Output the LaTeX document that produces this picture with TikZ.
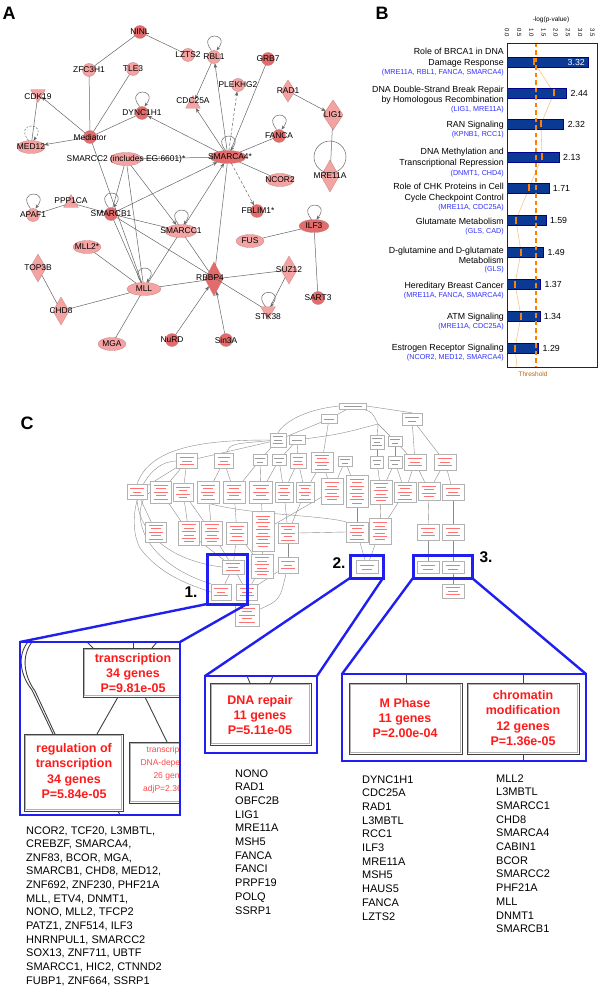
\documentclass[tikz,border=0pt]{standalone}
\usepackage{fontspec}
\setmainfont{Liberation Sans}
\usetikzlibrary{shapes.geometric,arrows.meta}
\definecolor{nodeL}{HTML}{F4A3A3}
\definecolor{nodeD}{HTML}{E36B6B}
\definecolor{nodeE}{HTML}{C88080}
\definecolor{barblue}{HTML}{0B3A94}
\definecolor{genblue}{HTML}{3030FF}
\definecolor{thrOr}{HTML}{FF7F00}
\definecolor{ratioc}{HTML}{F2C98A}
\definecolor{hiblue}{HTML}{1F1FF0}
\definecolor{goRed}{HTML}{FF1A1A}
\definecolor{thrTxt}{HTML}{C06010}
\pgfdeclarelayer{back}
\pgfdeclarelayer{bg}
\pgfsetlayers{back,bg,main}
\tikzset{
 gnode/.style={draw=nodeE, line width=0.3pt, inner sep=0pt, outer sep=0pt},
 gc/.style={gnode, circle, minimum size=13pt, fill=#1},
 ge/.style 2 args={gnode, ellipse, minimum width=#2, minimum height=13pt, fill=#1},
 gd/.style n args={3}{gnode, diamond, minimum width=#2, minimum height=#3, fill=#1},
 gtu/.style={gnode, regular polygon, regular polygon sides=3, minimum size=17pt, fill=#1},
 gtd/.style={gtu=#1, shape border rotate=180},
 glab/.style={font=\fontsize{8.4}{9}\selectfont, inner sep=0pt},
 ed/.style={draw=black!60, line width=0.5pt},
 ar/.style={ed, -{Stealth[length=4.5pt,width=3.6pt]}},
 dar/.style={ar, dash pattern=on 3pt off 2pt},
 lp/.style={ed, -{Stealth[length=4pt,width=3.2pt]}},
 panlab/.style={font=\bfseries\fontsize{18}{18}\selectfont, inner sep=0pt},
 numlab/.style={font=\bfseries\fontsize{15.5}{16}\selectfont, inner sep=0pt},
 blabst/.style={anchor=east, font=\fontsize{8.8}{10}\selectfont, inner sep=0pt, text height=6.3pt, text depth=1.8pt},
 bgenst/.style={anchor=east, font=\fontsize{7.2}{8}\selectfont, text=genblue, inner sep=0pt, text height=5.2pt, text depth=1.5pt},
 valst/.style={font=\fontsize{8.8}{10}\selectfont, inner sep=0pt},
 tbox/.style={draw=black!30, line width=0.4pt, fill=white, inner sep=0pt},
 tedge/.style={draw=black!45, line width=0.4pt},
 hib/.style={draw=hiblue, line width=3pt},
 hicon/.style={draw=hiblue, line width=2.4pt},
 insetb/.style={draw=hiblue, line width=1.5pt},
 gobig/.style={draw=black!75, line width=0.8pt, fill=white},
 gobigin/.style={draw=black!30, line width=1.1pt},
 intxt/.style={align=center, text=goRed, font=\bfseries\fontsize{12.5}{15.4}\selectfont, inner sep=0pt},
 listtxt/.style={anchor=base west, font=\fontsize{11}{12}\selectfont, inner sep=0pt},
 inline/.style={draw=black!75, line width=0.9pt},
}
\newcommand\sloop[2][]{\draw[lp,#1] ([xshift=-2.5pt]#2.north) .. controls +(-15,-19) and +(15,-19) .. ([xshift=2.5pt]#2.north);}
\newcommand\gobox[6]{%
  \node[tbox, minimum width=#4pt, minimum height=#5pt] (#1) at (#2,#3) {};
  \pgfmathtruncatemacro\gonl{max(1,floor((#5-3)/3.4))}%
  \foreach \k in {1,...,\gonl}{%
    \pgfmathsetmacro\goy{#3-(\gonl+1)*1.7+\k*3.4}%
    \pgfmathsetmacro\gol{ifthenelse(mod(\k,2)==0,0.22,0.34)*#4}%
    \draw[#6, line width=0.35pt] ({#2-\gol},\goy) -- ({#2+\gol},\goy);
  }%
}
\newcommand\bigbox[4]{%
  \draw[gobig] (#1,#2) rectangle (#3,#4);
  \draw[gobigin] ({#1+1.4},{#2+1.4}) rectangle ({#3-1.4},{#4-1.4});
}
\begin{document}
\begin{tikzpicture}[x=1pt,y=-1pt]
\useasboundingbox (0,0) rectangle (600,987);
\begin{pgfonlayer}{back}
\fill[white] (0,0) rectangle (600,987);
\end{pgfonlayer}

%================ Panel A =================
\node[panlab] (labA) at (9,13) {A};

\node[gc=nodeD] (NINL) at (140,32) {};
\node[gc=nodeL] (LZTS2) at (188,55) {};
\node[gc=nodeL] (RBL1) at (214,57) {};
\node[gc=nodeD] (GRB7) at (268,59) {};
\node[gc=nodeL] (ZFC3H1) at (89,70) {};
\node[gc=nodeL] (TLE3) at (133,69) {};
\node[gc=nodeL] (PLEKHG2) at (238,85) {};
\node[gd={nodeL}{14pt}{22pt}] (RAD1) at (288,91) {};
\node[gtd=nodeL] (CDK19) at (38,94) {};
\node[gtu=nodeL] (CDC25A) at (193,104) {};
\node[gc=nodeD] (DYNC1H1) at (142,113) {};
\node[gc=nodeD] (FANCA) at (279,136) {};
\node[gc=nodeD] (Mediator) at (90,137) {};
\node[ge={nodeL}{28pt}] (MED12) at (31,147) {};
\node[ge={nodeL}{32pt}] (SMARCC2) at (126,159) {};
\node[ge={nodeD}{36pt}] (SMARCA4) at (228,157) {};
\node[ge={nodeL}{28pt}] (NCOR2) at (280,180) {};
\node[gd={nodeL}{20pt}{30pt}] (LIG1) at (333,115) {};
\node[gd={nodeL}{18pt}{32pt}] (MRE11A) at (330,176) {};
\node[gc=nodeL] (APAF1) at (33,215) {};
\node[gtu=nodeL] (PPP1CA) at (71,203) {};
\node[gc=nodeD] (SMARCB1) at (111,214) {};
\node[gc=nodeD] (FBLIM1) at (257,211) {};
\node[ge={nodeL}{32pt}] (SMARCC1) at (181,231) {};
\node[ge={nodeL}{28pt}] (FUS) at (250,241) {};
\node[ge={nodeL}{28pt}] (MLL2) at (87,247) {};
\node[gd={nodeL}{16pt}{28pt}] (TOP3B) at (38,268) {};
\node[gd={nodeL}{16pt}{28pt}] (SUZ12) at (289,270) {};
\node[gd={nodeD}{18pt}{34pt}] (RBBP4) at (214,279) {};
\node[ge={nodeL}{34pt}] (MLL) at (144,289) {};
\node[gd={nodeL}{16pt}{28pt}] (CHD8) at (61,311) {};
\node[gtd=nodeL] (STK38) at (268,311) {};
\node[ge={nodeL}{28pt}] (MGA) at (112,344) {};
\node[gc=nodeD] (NuRD) at (172,340) {};
\node[gc=nodeD] (Sin3A) at (226,340) {};
\node[ge={nodeD}{30pt}] (ILF3) at (314,226) {};
\node[gc=nodeD] (SART3) at (318,298) {};

\draw[ed] (330,157) circle (16);

\draw[ed] (NINL) -- (ZFC3H1);
\draw[ed] (NINL) -- (LZTS2);
\draw[ed] (ZFC3H1) -- (Mediator);
\draw[ed] (TLE3) -- (Mediator);
\draw[ar] (Mediator) -- (CDK19);
\draw[ed] (CDK19) -- (MED12);
\draw[ar] (Mediator) -- (MED12);
\draw[ed] (Mediator) -- (DYNC1H1);
\draw[ed] (Mediator) -- (MLL);
\draw[ar] (SMARCA4) -- (DYNC1H1);
\draw[ar] (SMARCA4) -- (CDC25A);
\draw[ar] (RBL1) -- (CDC25A);
\draw[ar] (SMARCA4) -- (RBL1);
\draw[dar] (SMARCA4) -- (PLEKHG2);
\draw[ed] (SMARCA4) -- (GRB7);
\draw[ed] (SMARCA4) -- (FANCA);
\draw[ed] (SMARCA4) -- (NCOR2);
\draw[dar] (SMARCA4) -- (FBLIM1);
\draw[ed] (SMARCC2) -- (SMARCA4);
\draw[ed] (SMARCA4) -- (RBBP4);
\draw[ar] (SMARCB1) -- (SMARCA4);
\draw[ar] (SMARCC1) -- (SMARCA4);
\draw[ar] (RAD1) -- (LIG1);
\draw[ed] (LIG1) -- (MRE11A);
\draw[ed] (SMARCC2) -- (SMARCB1);
\draw[ed] (SMARCC2) -- (MLL);
\draw[ar] (SMARCC2) -- (SMARCC1);
\draw[ed] (APAF1) -- (PPP1CA);
\draw[ar] (PPP1CA) -- (SMARCB1);
\draw[ed] (SMARCB1) -- (SMARCC1);
\draw[ed] (SMARCB1) -- (STK38);
\draw[ed] (SMARCB1) -- (MLL);
\draw[ed] (SMARCC1) -- (MLL);
\draw[ed] (SMARCC1) -- (RBBP4);
\draw[ed] (MLL2) -- (MLL);
\draw[ed] (MLL) -- (RBBP4);
\draw[ed] (MLL) -- (CHD8);
\draw[ed] (MLL) -- (MGA);
\draw[ed] (TOP3B) -- (CHD8);
\draw[ed] (RBBP4) -- (SUZ12);
\draw[ed] (SUZ12) -- (STK38);
\draw[ar] (NuRD) -- (RBBP4);
\draw[ar] (Sin3A) -- (RBBP4);
\draw[ed] (FUS) -- (ILF3);
\draw[ed] (ILF3) -- (SART3);

\sloop{RBL1}
\sloop{DYNC1H1}
\sloop{FANCA}
\sloop[dash pattern=on 2pt off 1.5pt]{MED12}
\sloop{SMARCA4}
\sloop{APAF1}
\sloop{SMARCB1}
\sloop{SMARCC1}
\sloop{MLL}
\sloop{STK38}
\sloop{ILF3}

\foreach \n in {NINL,LZTS2,RBL1,GRB7,ZFC3H1,TLE3,PLEKHG2,RAD1,DYNC1H1,FANCA,Mediator,MED12,NCOR2,LIG1,MRE11A,APAF1,SMARCB1,SMARCC1,FUS,TOP3B,SUZ12,MLL,CHD8,MGA,NuRD,Sin3A,ILF3,SART3}
  \node[glab] (t\n) at (\n) {\n};
\node[glab] (tCDK19) at (38,97) {CDK19};
\node[glab] (tCDC25A) at (193,101) {CDC25A};
\node[glab] (tPPP1CA) at (71,201) {PPP1CA};
\node[glab] (tSTK38) at (268,317) {STK38};
\node[glab] (tRBBP4) at (210,278) {RBBP4};
\node[glab] (tSMARCA4) at (230,157) {SMARCA4*};
\node[glab] (tFBLIM1) at (258,211) {FBLIM1*};
\node[glab] (tMLL2) at (87,247) {MLL2*};
\node[glab] (tSMARCC2) at (126,159) {SMARCC2 (includes EG:6601)*};

%================ Panel B =================
\node[panlab] (labB) at (382,13) {B};
\node[font=\fontsize{6.5}{7}\selectfont, inner sep=0pt] (axt) at (551,20) {-log(p-value)};
\foreach \t [count=\i from 0] in {0.0,0.5,1.0,1.5,2.0,2.5,3.0,3.5}
  \node[font=\fontsize{6}{6}\selectfont, rotate=-90, inner sep=0pt] (tk\i) at ({507+\i*12.2},33) {\t};

\draw[ratioc, line width=0.6pt] (534,62) -- (554,93) -- (541,124) -- (542,157) -- (529,188) -- (516,220) -- (521,252) -- (515,284) -- (521,316) -- (515,348) -- (517,367);
\foreach \y/\v in {62/3.32,93/2.44,124/2.32,157/2.13,188/1.71,220/1.59,252/1.49,284/1.37,316/1.34,348/1.29}
  \draw[fill=barblue, draw=blue!55!black, line width=0.4pt] (507,{\y-5}) rectangle ({507+\v*24.4},{\y+5});
\foreach \y/\r in {62/534,93/554,124/541,157/542,188/529,220/516,252/521,284/515,316/521,348/515}
  \fill[thrOr] ({\r-0.8},{\y-3.5}) rectangle ({\r+0.8},{\y+3.5});
\draw[thrOr, line width=1.3pt, dash pattern=on 4.5pt off 3pt] (536,43) -- (536,367);
\draw[black!85, line width=0.8pt] (507,43) rectangle (597,367);
\node[valst, text=white, anchor=east] (v1) at (585,62) {3.32};
\foreach \y/\v in {93/2.44,124/2.32,157/2.13,188/1.71,220/1.59,252/1.49,284/1.37,316/1.34,348/1.29}
  \node[valst, anchor=west] (v\y) at ({507+\v*24.4+4},\y) {\v};
\node[font=\fontsize{6.5}{7}\selectfont, text=thrTxt, inner sep=0pt] (thr) at (533,374) {Threshold};

\node[blabst] (b1a) at (504,52) {Role of BRCA1 in DNA};
\node[blabst] (b1b) at (504,63) {Damage Response};
\node[bgenst] (b1c) at (504,73) {(MRE11A, RBL1, FANCA, SMARCA4)};
\node[blabst] (b2a) at (504,90) {DNA Double-Strand Break Repair};
\node[blabst] (b2b) at (504,100) {by Homologous Recombination};
\node[bgenst] (b2c) at (504,110) {(LIG1, MRE11A)};
\node[blabst] (b3a) at (504,125) {RAN Signaling};
\node[bgenst] (b3c) at (504,135) {(KPNB1, RCC1)};
\node[blabst] (b4a) at (504,152) {DNA Methylation and};
\node[blabst] (b4b) at (504,163) {Transcriptional Repression};
\node[bgenst] (b4c) at (504,174) {(DNMT1, CHD4)};
\node[blabst] (b5a) at (504,187) {Role of CHK Proteins in Cell};
\node[blabst] (b5b) at (504,198) {Cycle Checkpoint Control};
\node[bgenst] (b5c) at (504,208) {(MRE11A, CDC25A)};
\node[blabst] (b6a) at (504,222) {Glutamate Metabolism};
\node[bgenst] (b6c) at (504,232) {(GLS, CAD)};
\node[blabst] (b7a) at (504,251) {D-glutamine and D-glutamate};
\node[blabst] (b7b) at (504,261) {Metabolism};
\node[bgenst] (b7c) at (504,270) {(GLS)};
\node[blabst] (b8a) at (504,286) {Hereditary Breast Cancer};
\node[bgenst] (b8c) at (504,296) {(MRE11A, FANCA, SMARCA4)};
\node[blabst] (b9a) at (504,317) {ATM Signaling};
\node[bgenst] (b9c) at (504,327) {(MRE11A, CDC25A)};
\node[blabst] (b10a) at (504,348) {Estrogen Receptor Signaling};
\node[bgenst] (b10c) at (504,358) {(NCOR2, MED12, SMARCA4)};

%================ Panel C =================
\node[panlab] (labC) at (27,423) {C};

\gobox{t0}{353}{406}{27}{6}{black!40}
\gobox{t1}{329}{419}{16}{9}{black!40}
\gobox{t2}{412}{419}{20}{12}{black!40}
\gobox{t3}{278}{440}{16}{14}{black!40}
\gobox{t4}{297}{440}{16}{9}{black!40}
\gobox{t5}{377}{442}{14}{14}{black!40}
\gobox{t6}{395}{441}{14}{10}{black!40}

\gobox{a1}{187}{461}{21}{15}{red!55}
\gobox{a2}{224}{461}{19}{15}{red!55}
\gobox{a3}{260}{460}{14}{11}{black!40}
\gobox{a4}{279}{460}{14}{11}{black!40}
\gobox{a5}{298}{461}{16}{15}{red!55}
\gobox{a6}{322}{462}{22}{20}{red!55}
\gobox{a7}{345}{461}{14}{10}{black!40}
\gobox{a8}{377}{462}{13}{12}{black!40}
\gobox{a9}{395}{462}{14}{12}{black!40}
\gobox{a10}{415}{462}{22}{16}{red!55}
\gobox{a11}{445}{462}{22}{16}{red!55}

\gobox{b1}{137}{492}{20}{15}{red!55}
\gobox{b2}{161}{492}{21}{22}{red!55}
\gobox{b3}{183}{492}{20}{18}{red!55}
\gobox{b4}{208}{492}{22}{22}{red!55}
\gobox{b5}{234}{492}{22}{22}{red!55}
\gobox{b6}{261}{492}{23}{22}{red!55}
\gobox{b7}{284}{492}{18}{20}{red!55}
\gobox{b8}{305}{492}{18}{20}{red!55}
\gobox{b9}{332}{491}{22}{26}{red!55}
\gobox{b10}{357}{491}{22}{32}{red!55}
\gobox{b11}{381}{492}{22}{24}{red!55}
\gobox{b12}{405}{492}{22}{20}{red!55}
\gobox{b13}{429}{491}{22}{18}{red!55}
\gobox{b14}{453}{492}{22}{16}{red!55}

\gobox{c1}{156}{532}{21}{20}{red!55}
\gobox{c2}{189}{533}{21}{24}{red!55}
\gobox{c3}{212}{533}{21}{24}{red!55}
\gobox{c4}{237}{533}{21}{22}{red!55}
\gobox{c5}{263}{531}{22}{40}{red!55}
\gobox{c6}{288}{533}{20}{20}{red!55}
\gobox{c7}{357}{532}{22}{20}{red!55}
\gobox{c8}{380}{531}{22}{26}{red!55}
\gobox{c9}{428}{532}{22}{16}{red!55}
\gobox{c10}{453}{532}{22}{16}{red!55}

\gobox{d1}{233}{567}{22}{14}{red!55}
\gobox{d2}{262}{566}{22}{24}{red!55}
\gobox{d3}{288}{565}{20}{16}{red!55}
\gobox{d4}{367}{567}{22}{13}{red!55}
\gobox{d5}{428}{567}{22}{12}{red!55}
\gobox{d6}{453}{567}{22}{12}{red!55}

\gobox{e1}{221}{592}{20}{16}{red!55}
\gobox{e2}{247}{592}{21}{16}{red!55}
\gobox{e3}{453}{591}{22}{14}{red!55}
\gobox{f1}{247}{615}{24}{22}{red!55}

\begin{pgfonlayer}{bg}
\draw[tedge] (t0) -- (t1);
\draw[tedge] (t0.east) -- (t2.north);
\draw[tedge] (t0.west) .. controls (300,410) and (282,425) .. (t3.north);
\draw[tedge] (t0) .. controls (372,412) .. (378,424) -- (t5);
\draw[tedge] (378,424) -- (t6);
\draw[tedge] (t4) .. controls (340,434) .. (378,424);
\draw[tedge] (t1) -- (t3);
\draw[tedge] (t2) -- (a11);
\draw[tedge] (t2) -- (a10);
\draw[tedge] (t3) -- (a3);
\draw[tedge] (t3) .. controls (230,444) .. (a2);
\draw[tedge] (t3.west) .. controls (210,440) and (150,445) .. (b1.north);
\draw[tedge] (t4) -- (a4);
\draw[tedge] (t4) -- (a5);
\draw[tedge] (t1) -- (a6);
\draw[tedge] (t5) -- (a8);
\draw[tedge] (t6) -- (a9);
\draw[tedge] (t6) -- (a10);
\draw[tedge] (t3) -- (a1);
\draw[tedge] (a1) -- (b2);
\draw[tedge] (a1) -- (b3);
\draw[tedge] (a1) -- (b1);
\draw[tedge] (a2) -- (b4);
\draw[tedge] (a2) -- (b5);
\draw[tedge] (a3) -- (b5);
\draw[tedge] (a3) -- (b6);
\draw[tedge] (a4) -- (b6);
\draw[tedge] (a4) -- (b7);
\draw[tedge] (a5) -- (b7);
\draw[tedge] (a5) -- (b8);
\draw[tedge] (a6) -- (b8);
\draw[tedge] (a6) -- (b9);
\draw[tedge] (a7) -- (b9);
\draw[tedge] (a7) -- (b10);
\draw[tedge] (a8) -- (b11);
\draw[tedge] (a9) -- (b11);
\draw[tedge] (a9) -- (b12);
\draw[tedge] (a10) -- (b12);
\draw[tedge] (a10) -- (b13);
\draw[tedge] (a11) -- (b14);
\draw[tedge] (a11) -- (b13);
\draw[tedge] (b1) -- (c1);
\draw[tedge] (b2) -- (c2);
\draw[tedge] (b3) -- (c2);
\draw[tedge] (b3) -- (c3);
\draw[tedge] (b4) -- (c3);
\draw[tedge] (b5) -- (c4);
\draw[tedge] (b6) -- (c5);
\draw[tedge] (b7) -- (c6);
\draw[tedge] (b8) -- (c6);
\draw[tedge] (b9) -- (c5);
\draw[tedge] (b10) -- (c7);
\draw[tedge] (b11) -- (c8);
\draw[tedge] (b12) -- (c8);
\draw[tedge] (b13) -- (c9);
\draw[tedge] (b14) -- (c10);
\draw[tedge] (c6.east) -- (c7.west);
\draw[tedge] (b4.south) .. controls (250,515) and (320,515) .. (c7.north west);
\draw[tedge] (c2) -- (d1);
\draw[tedge] (c3) -- (d1);
\draw[tedge] (c4) -- (d1);
\draw[tedge] (c4) -- (d2);
\draw[tedge] (c5) -- (d2);
\draw[tedge] (c6) -- (d3);
\draw[tedge] (c7) -- (d4);
\draw[tedge] (c8) -- (d4);
\draw[tedge] (c9) -- (d5);
\draw[tedge] (c10) -- (d6);
\draw[tedge] (d1) -- (e1);
\draw[tedge] (d1) -- (e2);
\draw[tedge] (d2) -- (e2);
\draw[tedge] (d3) -- (e2);
\draw[tedge] (e2) -- (f1);
\draw[tedge] (d3) .. controls (280,600) .. (f1);
\draw[tedge] (d6) -- (e3);
\draw[tedge] (a1.west) .. controls (140,462) and (125,520) .. (140,548) .. controls (160,575) and (190,585) .. (e1.west);
\draw[tedge] (b1.south) .. controls (140,540) and (180,562) .. (d1.west);
\draw[tedge] (b2.west) .. controls (130,505) and (135,560) .. (e1.north west);
\end{pgfonlayer}

% highlight boxes and labels
\draw[hib] (207,554) rectangle (247,604);
\draw[hib] (350,555) rectangle (383,578);
\draw[hib] (413,555) rectangle (472,578);
\node[numlab] (n1) at (191,592) {1.};
\node[numlab] (n2) at (339,563) {2.};
\node[numlab] (n3) at (486,557) {3.};

% zoom connectors
\draw[hicon] (207,604) -- (20,642);
\draw[hicon] (247,604) -- (180,642);
\draw[hicon] (350,578) -- (205,676);
\draw[hicon] (383,578) -- (317,676);
\draw[hicon] (413,578) -- (342,674);
\draw[hicon] (472,578) -- (586,674);

% inset 1
\fill[white] (20,642) rectangle (180,815);
\begin{scope}
\clip (20,642) rectangle (180,815);
\draw[inline] (28,642) .. controls (17,655) and (20,675) .. (32,690) -- (53,734);
\draw[inline] (32,642) .. controls (21,656) and (24,676) .. (35,691) -- (55,734);
\draw[inline] (87,642) -- (93,648);
\draw[inline] (133,642) -- (133,648);
\draw[inline] (157,642) -- (152,648);
\draw[inline] (118,697) -- (97,734);
\draw[inline] (145,697) -- (167,742);
\draw[inline] (118,811) -- (120,815);
\bigbox{83}{648}{183}{697}
\bigbox{24}{734}{123}{811}
\bigbox{129}{742}{213}{803}
\node[intxt] (i1a) at (133,673) {transcription\\34 genes\\P=9.81e-05};
\node[intxt] (i1b) at (74,771) {regulation of\\transcription\\34 genes\\P=5.84e-05};
\node[align=center, text=goRed!80, font=\fontsize{8.5}{13}\selectfont, inner sep=0pt] (i1c) at (171,770) {transcription,\\DNA-dependent\\26 genes\\adjP=2.36e-05};
\end{scope}
\draw[insetb] (20,642) rectangle (180,815);

% inset 2
\fill[white] (205,676) rectangle (317,753);
\draw[inline] (247,676) -- (250,683);
\draw[inline] (273,676) -- (270,683);
\bigbox{210}{683}{311}{745}
\node[intxt] (i2) at (260,715) {DNA repair\\11 genes\\P=5.11e-05};
\draw[insetb] (205,676) rectangle (317,753);

% inset 3
\fill[white] (342,674) rectangle (586,761);
\draw[inline] (406,674) -- (406,683);
\draw[inline] (523,674) -- (523,683);
\draw[inline] (523,754) -- (523,761);
\bigbox{349}{683}{462}{754}
\bigbox{467}{683}{579}{754}
\node[intxt] (i3a) at (405,718) {M Phase\\11 genes\\P=2.00e-04};
\node[intxt] (i3b) at (523,718) {chromatin\\modification\\12 genes\\P=1.36e-05};
\draw[insetb] (342,674) rectangle (586,761);

% gene lists
\foreach \t [count=\i from 0] in {{NCOR2, TCF20, L3MBTL,},{CREBZF, SMARCA4,},{ZNF83, BCOR, MGA,},{SMARCB1, CHD8, MED12,},{ZNF692, ZNF230, PHF21A},{MLL, ETV4, DNMT1,},{NONO, MLL2, TFCP2},{PATZ1, ZNF514, ILF3},{HNRNPUL1, SMARCC2},{SOX13, ZNF711, UBTF},{SMARCC1, HIC2, CTNND2},{FUBP1, ZNF664, SSRP1}}
  \node[listtxt] (lA\i) at (26,{834+\i*13.65}) {\t};
\foreach \t [count=\i from 0] in {NONO,RAD1,OBFC2B,LIG1,MRE11A,MSH5,FANCA,FANCI,PRPF19,POLQ,SSRP1}
  \node[listtxt] (lB\i) at (235,{777+\i*13.7}) {\t};
\foreach \t [count=\i from 0] in {DYNC1H1,CDC25A,RAD1,L3MBTL,RCC1,ILF3,MRE11A,MSH5,HAUS5,FANCA,LZTS2}
  \node[listtxt] (lC\i) at (362,{783+\i*13.7}) {\t};
\foreach \t [count=\i from 0] in {MLL2,L3MBTL,SMARCC1,CHD8,SMARCA4,CABIN1,BCOR,SMARCC2,PHF21A,MLL,DNMT1,SMARCB1}
  \node[listtxt] (lD\i) at (496,{782+\i*13.7}) {\t};

\end{tikzpicture}
\end{document}
